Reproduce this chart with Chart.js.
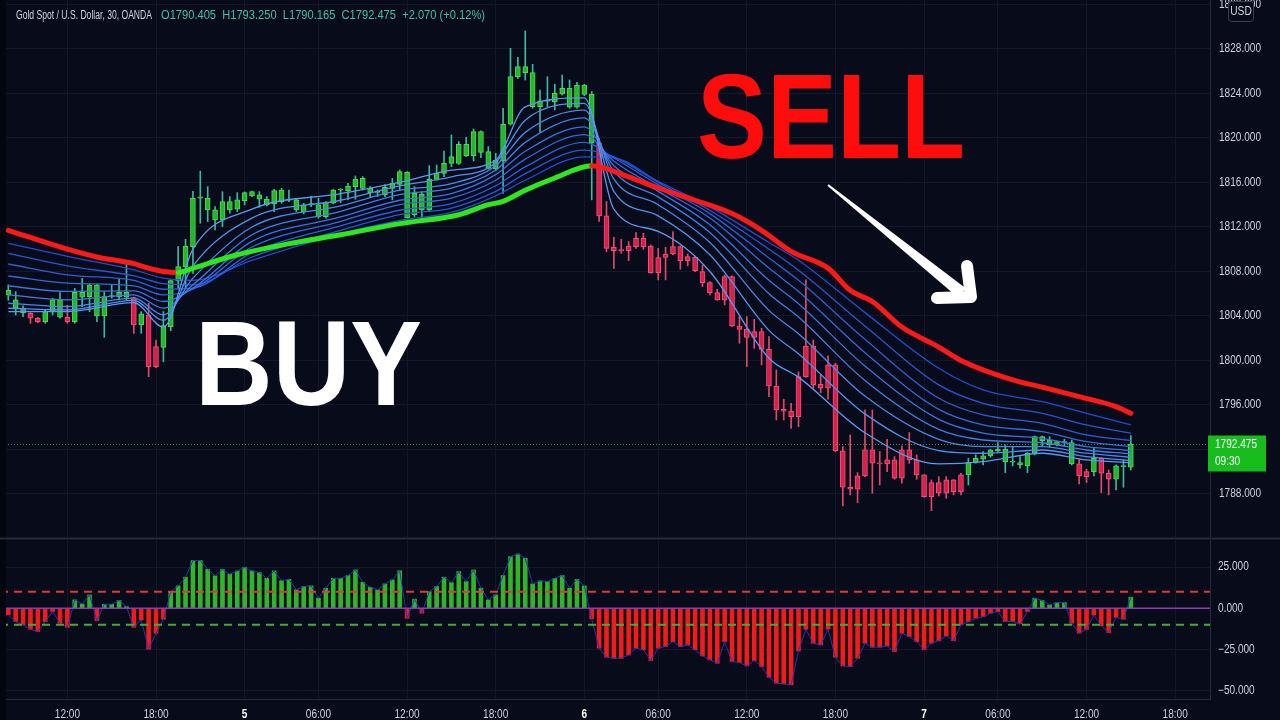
<!DOCTYPE html>
<html>
<head>
<meta charset="utf-8">
<script src="https://cdn.jsdelivr.net/npm/chart.js@4.4.0/dist/chart.umd.min.js"></script>
<style>
  html, body { margin: 0; padding: 0; background: #080b19; overflow: hidden; }
  #wrap { position: relative; width: 1280px; height: 720px; }
  #main { position: absolute; left: 0; top: 0; width: 1280px; height: 537px; }
  #osc { position: absolute; left: 0; top: 537px; width: 1280px; height: 183px; }
</style>
</head>
<body>
<div id="wrap">
  <canvas id="main" width="1280" height="537"></canvas>
  <canvas id="osc" width="1280" height="183"></canvas>
</div>
<script>
// --- data: 30 min XAUUSD bars ---
const opens = [1805.9,1804.69,1804.3,1804.24,1803.79,1803.49,1804.39,1803.88,1803.88,1803.49,1805.68,1805.73,1804.0,1804.0,1805.73,1805.73,1805.68,1805.65,1803.19,1804.09,1801.24,1801.18,1803.04,1807.17,1808.43,1810.23,1814.58,1813.53,1812.63,1812.63,1813.53,1813.59,1814.37,1814.79,1814.49,1813.98,1814.07,1814.28,1814.4,1813.53,1813.38,1814.0,1812.93,1812.93,1814.13,1815.3,1815.26,1815.62,1815.47,1815.08,1815.1,1814.88,1815.47,1815.83,1812.84,1813.08,1813.53,1813.5,1816.28,1816.82,1817.72,1817.72,1818.41,1818.41,1818.71,1817.27,1817.21,1817.93,1821.23,1825.51,1825.87,1822.82,1822.82,1823.3,1823.27,1823.96,1822.76,1822.76,1823.92,1819.52,1819.52,1812.99,1810.17,1809.95,1810.29,1810.98,1810.98,1810.29,1809.24,1809.57,1810.23,1810.23,1809.33,1809.27,1807.99,1806.99,1806.1,1807.54,1807.54,1803.1,1802.8,1802.59,1802.59,1801.0,1797.7,1795.6,1795.45,1798.55,1801.3,1801.3,1797.86,1799.6,1799.6,1791.87,1788.6,1789.62,1791.96,1791.96,1790.8,1791.06,1791.06,1791.96,1791.96,1791.06,1789.71,1789.02,1789.02,1789.26,1789.26,1789.71,1789.71,1790.82,1791.12,1791.42,1791.86,1790.91,1790.85,1790.61,1790.52,1791.66,1792.8,1792.4,1792.4,1792.6,1790.7,1790.7,1790.01,1790.01,1791.21,1789.86,1789.32,1790.45,1790.405];
const highs = [1806.8,1806.18,1804.9,1804.3,1803.88,1804.54,1805.59,1806.09,1804.96,1806.48,1807.38,1806.85,1806.85,1806.18,1806.78,1807.38,1808.67,1805.7,1804.39,1805.14,1801.84,1804.39,1807.25,1810.23,1810.89,1815.2,1817.02,1815.62,1813.83,1815.17,1814.73,1815.08,1815.15,1815.22,1815.17,1814.73,1815.38,1815.47,1815.32,1814.58,1814.13,1814.73,1814.58,1814.28,1815.38,1815.45,1815.92,1816.58,1816.52,1815.62,1815.32,1815.8,1816.37,1817.12,1816.97,1815.62,1815.17,1817.51,1817.57,1818.83,1820.27,1819.67,1820.06,1820.81,1820.63,1819.22,1818.62,1822.67,1828.06,1827.25,1829.62,1826.62,1824.3,1825.51,1824.82,1825.66,1825.21,1825.0,1824.82,1824.17,1819.97,1814.28,1811.07,1810.89,1810.68,1811.49,1811.43,1810.38,1810.08,1810.17,1811.58,1810.29,1809.57,1809.39,1808.58,1807.08,1806.4,1807.69,1807.6,1803.94,1803.94,1803.7,1802.89,1802.14,1799.15,1796.51,1796.15,1798.97,1807.24,1801.84,1798.7,1800.41,1799.75,1792.26,1793.3,1789.92,1795.55,1795.55,1791.81,1792.91,1791.36,1792.31,1793.51,1791.51,1789.75,1789.26,1789.56,1789.56,1789.3,1789.86,1791.21,1791.51,1791.81,1792.02,1792.61,1792.4,1792.25,1791.36,1791.72,1793.21,1793.21,1793.15,1792.76,1792.91,1792.85,1791.12,1790.22,1792.11,1791.25,1790.16,1790.61,1791.06,1793.25];
const lows = [1805.4,1804.09,1803.94,1803.34,1803.4,1803.34,1804.09,1803.79,1803.34,1803.34,1804.84,1804.39,1803.49,1802.08,1805.6,1805.44,1805.44,1802.44,1802.44,1798.54,1799.35,1799.89,1802.68,1806.48,1806.48,1807.83,1812.33,1812.48,1811.73,1812.03,1813.23,1813.38,1813.98,1814.73,1813.77,1813.89,1813.38,1814.13,1814.28,1813.38,1813.17,1813.83,1812.78,1812.78,1814.07,1814.19,1814.43,1814.49,1815.32,1814.73,1814.73,1814.73,1814.43,1815.32,1812.78,1812.93,1812.63,1813.45,1816.22,1816.52,1817.42,1817.63,1818.32,1817.93,1818.23,1817.21,1817.12,1815.02,1821.17,1825.36,1825.21,1822.67,1820.51,1822.82,1822.52,1823.86,1822.67,1822.67,1823.8,1814.43,1812.5,1809.78,1808.28,1809.63,1808.97,1810.08,1809.99,1807.84,1807.24,1807.24,1809.48,1808.2,1808.5,1807.99,1806.64,1805.89,1805.4,1804.99,1803.04,1801.54,1799.45,1801.09,1799.6,1796.75,1794.65,1794.65,1793.9,1794.05,1798.5,1797.5,1797.11,1796.51,1791.81,1786.92,1787.91,1787.22,1789.56,1788.06,1788.81,1790.01,1789.32,1788.96,1790.76,1789.32,1787.7,1786.5,1787.82,1787.61,1787.91,1787.91,1788.81,1790.76,1790.61,1791.3,1791.8,1789.92,1790.52,1790.31,1789.92,1791.51,1792.25,1792.25,1792.31,1792.31,1790.61,1788.9,1789.02,1789.62,1788.12,1787.91,1788.36,1788.6,1790.165];
const closes = [1806.3,1805.44,1804.69,1803.79,1803.49,1804.39,1805.44,1805.44,1803.49,1806.12,1806.12,1806.78,1806.78,1805.73,1805.82,1806.12,1806.12,1803.19,1804.18,1799.44,1799.44,1803.13,1807.17,1808.43,1810.29,1814.58,1814.7,1814.58,1813.53,1814.28,1814.28,1814.43,1815.08,1815.17,1814.88,1814.49,1815.26,1815.32,1814.5,1814.43,1813.98,1814.1,1813.98,1814.19,1815.32,1815.4,1815.68,1816.31,1816.37,1815.47,1815.2,1815.56,1815.92,1816.97,1816.91,1815.02,1814.93,1816.31,1816.82,1817.72,1818.32,1819.43,1819.43,1820.57,1820.57,1818.77,1818.02,1821.23,1825.51,1826.41,1826.41,1825.87,1823.33,1823.4,1824.0,1824.46,1824.46,1824.76,1824.76,1823.92,1812.99,1810.08,1809.87,1809.87,1809.87,1810.23,1810.23,1807.9,1807.9,1809.27,1809.57,1808.97,1808.97,1808.08,1806.99,1806.1,1805.44,1805.44,1803.1,1802.8,1802.08,1802.08,1801.0,1797.7,1795.55,1795.45,1794.95,1794.95,1798.55,1797.8,1797.5,1797.5,1791.87,1788.6,1788.42,1788.42,1789.62,1790.76,1790.7,1790.7,1789.41,1789.41,1791.06,1789.71,1787.76,1787.76,1788.06,1788.06,1788.21,1788.21,1790.82,1791.21,1791.42,1791.96,1792.04,1792.01,1790.95,1790.82,1791.66,1793.15,1793.15,1792.85,1792.7,1792.7,1792.61,1789.62,1789.56,1791.21,1789.86,1789.32,1790.52,1790.55,1792.475];

// EMA ribbon, read at these bar indices (fastest first)
const ribbonX = [0, 8, 17, 21, 25, 33, 45, 53, 60, 66, 70, 78, 82, 88, 95, 103, 107, 116, 126, 132, 140, 146, 152];
const ema1 = [1804.39,1804.4,1805.2,1803.0,1810.0,1813.6,1815.0,1816.0,1817.1,1818.0,1822.8,1823.6,1813.6,1811.6,1808.0,1800.2,1798.5,1793.5,1790.7,1790.9,1791.66,1791.06,1790.8];
const ema2 = [1804.69,1804.55,1805.4,1803.6,1808.5,1812.8,1814.4,1815.7,1816.5,1817.8,1821.6,1823.1,1815.2,1813.0,1809.5,1802.7,1800.6,1795.2,1791.9,1791.66,1791.95,1791.35,1791.0];
const ema3 = [1805.14,1804.85,1805.6,1804.1,1807.4,1812.0,1813.9,1815.3,1815.9,1817.5,1820.5,1822.5,1816.3,1814.0,1810.6,1804.5,1802.4,1796.8,1792.9,1792.25,1792.25,1791.66,1791.3];
const ema4 = [1805.89,1805.45,1805.9,1804.7,1806.8,1811.3,1813.4,1814.9,1815.5,1817.1,1819.6,1821.8,1817.0,1814.7,1811.5,1806.0,1803.9,1798.2,1793.8,1792.85,1792.6,1791.95,1791.6];
const ema5 = [1806.69,1806.2,1806.25,1805.3,1806.5,1810.7,1812.9,1814.4,1815.0,1816.7,1818.8,1821.0,1817.5,1815.2,1812.2,1807.2,1805.1,1799.5,1794.7,1793.46,1793.0,1792.25,1791.9];
const ema6 = [1807.59,1806.95,1806.7,1805.9,1806.4,1810.2,1812.5,1814.0,1814.6,1816.2,1818.1,1820.3,1817.9,1815.5,1812.8,1808.3,1806.2,1800.7,1795.6,1794.2,1793.6,1792.7,1792.26];
const ema7 = [1808.67,1807.7,1807.2,1806.4,1806.5,1809.7,1812.1,1813.5,1814.1,1815.7,1817.4,1819.6,1818.2,1815.8,1813.2,1809.2,1807.2,1801.9,1796.6,1795.1,1794.35,1793.3,1792.8];
const ema8 = [1809.63,1808.5,1807.6,1806.9,1806.8,1809.3,1811.7,1813.1,1813.7,1815.2,1816.8,1818.9,1818.3,1816.0,1813.5,1810.0,1808.1,1803.1,1797.8,1796.15,1795.25,1794.2,1793.46];
const ema9 = [1810.53,1809.35,1808.15,1807.4,1807.2,1809.0,1811.4,1812.6,1813.3,1814.8,1816.2,1818.3,1818.2,1816.1,1813.8,1810.6,1809.0,1804.3,1799.3,1797.35,1796.3,1795.25,1794.2];

// slow trend line (red while falling, green while rising)
const trendX = [0, 8, 12, 17, 19, 21, 23, 25, 31, 38, 45, 53, 61, 65, 67, 70, 74, 79, 84, 88, 93, 98, 102, 106, 111, 114, 117, 121, 126, 129, 136, 140, 145, 150, 152];
const trendY = [1811.7,1810.0,1809.3,1808.7,1808.3,1808.0,1807.9,1808.3,1809.5,1810.5,1811.3,1812.3,1813.1,1814.0,1814.3,1815.3,1816.4,1817.5,1816.5,1815.5,1814.4,1813.2,1811.7,1809.8,1808.3,1806.3,1805.3,1803.0,1801.2,1800.0,1798.25,1797.6,1796.75,1795.85,1795.25];

// oscillator histogram, one value per bar
const oscValues = [-4,-8.1,-10.1,-12.8,-14.2,-8.1,-2,-9.1,-11.6,5.1,2.6,8.1,-7.5,2.4,2.4,4.7,1,-11.6,-7.1,-24.9,-15.2,-6.7,10.1,13.6,18.9,29.0,29.0,23.7,19.7,23.7,20.7,22.7,24.9,22.7,21.7,18.2,22.7,16.8,17.6,11.2,13.2,13.6,6.1,12.2,18.2,18.2,19.9,23.3,15.8,12.8,11.2,14.8,17.2,22.8,-6.1,5.5,-3.0,10.1,13.2,18.9,15.6,22.3,16.2,23.3,12.2,5.1,8.1,19.9,31.4,33.0,30.4,14.8,16.6,16.2,18.2,19.9,12.2,17.6,13.6,-6.5,-24.3,-29.8,-30.4,-30.4,-28.4,-24.3,-25.3,-31.8,-24.3,-23.3,-20.3,-23.3,-22.3,-25.3,-29.0,-31.4,-33.5,-20.3,-32.4,-33.0,-35.1,-31.8,-35.5,-42.0,-45.6,-46.0,-46.6,-26,-12.8,-21.3,-22.3,-12.8,-29.8,-35.1,-35.5,-30.4,-21.3,-23.7,-23.7,-22.9,-26.4,-15.2,-17.2,-20.3,-25.3,-21.3,-19.7,-16.8,-19.7,-10.1,-8.1,-6.1,-5.1,-3.0,-2.0,-8.1,-8.1,-9.5,-2.0,6.1,4.7,2.0,3.4,3.4,-9.1,-15.2,-12.8,-4.1,-10.7,-14.8,-5.5,-6.7,6.7];
const oscUpper = 10;
const oscLower = -10;

// time axis
const tickIdx = [8, 20, 32, 42, 54, 66, 78, 88, 100, 112, 124, 134, 146, 158];
const tickText = ['12:00', '18:00', '5', '06:00', '12:00', '18:00', '6', '06:00', '12:00', '18:00', '7', '06:00', '12:00', '18:00'];
const priceTicks = [1788, 1792, 1796, 1800, 1804, 1808, 1812, 1816, 1820, 1824, 1828, 1832];
const oscTicks = [25, 0, -25, -50];

const title = 'Gold Spot / U.S. Dollar, 30, OANDA';
const ohlcText = 'O1790.405  H1793.250  L1790.165  C1792.475  +2.070 (+0.12%)';
const countdown = '09:30';

// --- look ---
const BG = '#080b19';
const GRID = '#131829';
const AXIS_LINE = '#262b3b';
const TXT = '#cfd2dc';
const FONT = "'Liberation Sans', Arial, sans-serif";
const NARROW = 0.84;
const UP = '#22b82a', UP_B = '#4fd65a';
const DN = '#d9204c', DN_B = '#f0507a';
const X_MIN = -1.124, X_MAX = 162.72;

const idx = closes.map((_, i) => i);
const isUp = idx.map(i => closes[i] >= opens[i]);
const ribbon = [ema1, ema2, ema3, ema4, ema5, ema6, ema7, ema8, ema9];
const ribbonColors = ['#5a98f2', '#5190ef', '#4886ec', '#407ce9', '#3872e5', '#3268e1', '#2c5edc', '#2755d7', '#224cd2'];

// condensed looking text: squeeze it sideways
function narrowText(g, text, x, y, align, color, weight, squeeze) {
  const s = squeeze || NARROW;
  g.save();
  g.font = (weight || 'normal') + ' 12px ' + FONT;
  g.textBaseline = 'middle';
  g.textAlign = 'left';
  const w = g.measureText(text).width * s;
  const x0 = align === 'center' ? x - w / 2 : (align === 'right' ? x - w : x);
  g.translate(x0, y);
  g.scale(s, 1);
  g.fillStyle = color;
  g.fillText(text, 0, 0);
  g.restore();
}

function fitText(g, text, x, base, w, font, color) {
  g.save();
  g.font = font;
  const m = g.measureText(text).width;
  g.translate(x, base);
  g.scale(w / m, 1);
  g.fillStyle = color;
  g.fillText(text, 0, 0);
  g.restore();
}

const bgPlugin = {
  id: 'bg',
  beforeDraw(c) {
    const g = c.ctx;
    g.save();
    g.fillStyle = BG;
    g.fillRect(0, 0, c.width, c.height);
    g.restore();
  }
};

const overlayPlugin = {
  id: 'overlay',
  afterDraw(c) {
    const g = c.ctx;
    const ys = c.scales.y;
    const py = Math.round(ys.getPixelForValue(closes[closes.length - 1])) + 0.5;
    g.save();
    // current price dotted line
    g.strokeStyle = 'rgba(90,170,70,0.8)';
    g.lineWidth = 1;
    g.setLineDash([1, 2]);
    g.beginPath(); g.moveTo(8, py); g.lineTo(c.chartArea.right, py); g.stroke();
    g.setLineDash([]);

    // BUY / SELL annotations
    g.textBaseline = 'alphabetic';
    fitText(g, 'SELL', 697, 158, 268, "bold 120px 'Liberation Sans', Arial, sans-serif", '#ff0d0d');
    fitText(g, 'BUY', 195, 405, 227, "bold 120px 'Liberation Sans', Arial, sans-serif", '#ffffff');

    // arrow, tapering shaft + chevron head
    g.fillStyle = '#ffffff';
    g.strokeStyle = '#ffffff';
    const ax0 = 828, ay0 = 185, ax1 = 962, ay1 = 293;
    const len = Math.hypot(ax1 - ax0, ay1 - ay0);
    const nx = -(ay1 - ay0) / len, ny = (ax1 - ax0) / len;
    g.beginPath();
    g.moveTo(ax0 + nx * 1, ay0 + ny * 1);
    g.lineTo(ax1 + nx * 6, ay1 + ny * 6);
    g.lineTo(ax1 - nx * 6, ay1 - ny * 6);
    g.lineTo(ax0 - nx * 1, ay0 - ny * 1);
    g.closePath(); g.fill();
    g.lineWidth = 12;
    g.lineCap = 'round';
    g.lineJoin = 'round';
    g.beginPath(); g.moveTo(937, 298); g.lineTo(971, 297); g.lineTo(967, 266); g.stroke();

    // left frame strip
    g.fillStyle = '#04060f';
    g.fillRect(0, 0, 6, c.height);

    // price axis labels
    priceTicks.forEach(v => narrowText(g, v.toFixed(3), 1219, ys.getPixelForValue(v), 'left', TXT));

    // header
    g.textBaseline = 'alphabetic';
    fitText(g, title, 16, 19, 136, '13px ' + FONT, TXT);
    fitText(g, ohlcText, 161, 19, 324, '13px ' + FONT, '#3fc0a8');

    // USD box
    g.fillStyle = BG;
    g.strokeStyle = '#3a3f4e';
    g.lineWidth = 1;
    g.beginPath(); g.roundRect(1228.5, 1.5, 25, 20, 3); g.fill(); g.stroke();
    narrowText(g, 'USD', 1241, 12, 'center', TXT, 'normal', 0.85);

    // last price label
    g.fillStyle = '#17bd1d';
    g.fillRect(1208, py - 9, 58, 36);
    narrowText(g, closes[closes.length - 1].toFixed(3), 1215, py, 'left', '#ffffff');
    narrowText(g, countdown, 1215, py + 17, 'left', '#ffffff');
    g.restore();
  }
};

const priceChart = new Chart(document.getElementById('main'), {
  type: 'bar',
  data: {
    datasets: [
      {
        type: 'line',
        label: 'trend',
        data: trendX.map((x, k) => ({ x: x, y: trendY[k] })),
        borderWidth: 5,
        borderColor: '#ff1a1a',
        segment: {
          borderColor: ctx => ctx.p1.parsed.y >= ctx.p0.parsed.y ? '#2ee81f' : '#ff1a1a'
        },
        pointRadius: 0,
        cubicInterpolationMode: 'monotone',
        borderCapStyle: 'round',
        order: 0
      },
      ...ribbon.map((line, k) => ({
        type: 'line',
        label: 'ema' + (k + 1),
        data: ribbonX.map((x, j) => ({ x: x, y: line[j] })),
        borderWidth: 1.3,
        borderColor: ribbonColors[k],
        pointRadius: 0,
        cubicInterpolationMode: 'monotone',
        order: 1
      })),
      {
        label: 'bodies',
        data: idx.map(i => ({ x: i, y: [Math.min(opens[i], closes[i]), Math.max(opens[i], closes[i])] })),
        backgroundColor: idx.map(i => isUp[i] ? UP : DN),
        borderColor: idx.map(i => isUp[i] ? UP_B : DN_B),
        borderWidth: 1,
        borderSkipped: false,
        barThickness: 5,
        minBarLength: 1,
        grouped: false,
        order: 2
      },
      {
        label: 'wicks',
        data: idx.map(i => ({ x: i, y: [lows[i], highs[i]] })),
        backgroundColor: idx.map(i => isUp[i] ? '#3fb6a0' : '#e04a6a'),
        barThickness: 1,
        grouped: false,
        order: 3
      }
    ]
  },
  options: {
    responsive: false,
    animation: false,
    devicePixelRatio: 1,
    layout: { padding: 0 },
    plugins: { legend: { display: false }, tooltip: { enabled: false } },
    scales: {
      x: {
        type: 'linear',
        min: X_MIN,
        max: X_MAX,
        offset: false,
        afterBuildTicks: s => { s.ticks = tickIdx.map(v => ({ value: v })); },
        afterFit: s => { s.height = 0; },
        ticks: { display: false },
        grid: { color: GRID, drawTicks: false, offset: false },
        border: { display: false }
      },
      y: {
        position: 'right',
        min: 1784.13,
        max: 1832.40,
        afterBuildTicks: s => { s.ticks = priceTicks.map(v => ({ value: v })); },
        afterFit: s => { s.width = 70; },
        ticks: { display: false },
        grid: { color: GRID, drawTicks: false },
        border: { color: AXIS_LINE }
      }
    }
  },
  plugins: [bgPlugin, overlayPlugin]
});

const oscFrame = {
  id: 'oscFrame',
  afterDraw(c) {
    const g = c.ctx;
    const xs = c.scales.x, ys = c.scales.y;
    g.save();
    g.fillStyle = '#04060f';
    g.fillRect(0, 0, 6, c.height);
    g.strokeStyle = AXIS_LINE;
    g.lineWidth = 2;
    g.beginPath(); g.moveTo(0, 1.5); g.lineTo(c.width, 1.5); g.stroke();
    oscTicks.forEach(v => narrowText(g, (v < 0 ? '\u2212' : '') + Math.abs(v).toFixed(3), 1218, ys.getPixelForValue(v), 'left', TXT));
    tickIdx.forEach((v, k) => {
      const day = /^\d$/.test(tickText[k]);
      narrowText(g, tickText[k], xs.getPixelForValue(v), 178, 'center', day ? '#ffffff' : TXT, day ? 'bold' : 'normal');
    });
    g.restore();
  }
};

const oscChart = new Chart(document.getElementById('osc'), {
  type: 'bar',
  data: {
    datasets: [
      {
        type: 'line',
        label: 'upper',
        data: [{ x: X_MIN, y: oscUpper }, { x: X_MAX, y: oscUpper }],
        borderColor: '#e0393a',
        borderWidth: 2,
        borderDash: [8, 6],
        pointRadius: 0,
        order: 0
      },
      {
        type: 'line',
        label: 'lower',
        data: [{ x: X_MIN, y: oscLower }, { x: X_MAX, y: oscLower }],
        borderColor: '#3fae34',
        borderWidth: 2,
        borderDash: [8, 6],
        pointRadius: 0,
        order: 0
      },
      {
        type: 'line',
        label: 'zero',
        data: [{ x: X_MIN, y: 0 }, { x: X_MAX, y: 0 }],
        borderColor: '#8a3bb8',
        borderWidth: 1.5,
        pointRadius: 0,
        order: 1
      },
      {
        type: 'line',
        label: 'outline',
        data: idx.map(i => ({ x: i, y: oscValues[i] })),
        borderColor: '#2436b4',
        borderWidth: 1,
        pointRadius: 0,
        order: 2
      },
      {
        label: 'hist',
        data: idx.map(i => ({ x: i, y: oscValues[i] })),
        backgroundColor: oscValues.map(v => v >= 0 ? '#2fb52a' : '#f21b1b'),
        barThickness: 4,
        grouped: false,
        order: 3
      }
    ]
  },
  options: {
    responsive: false,
    animation: false,
    devicePixelRatio: 1,
    layout: { padding: { top: 3 } },
    plugins: { legend: { display: false }, tooltip: { enabled: false } },
    scales: {
      x: {
        type: 'linear',
        min: X_MIN,
        max: X_MAX,
        offset: false,
        afterBuildTicks: s => { s.ticks = tickIdx.map(v => ({ value: v })); },
        afterFit: s => { s.height = 21; },
        ticks: { display: false },
        grid: { color: GRID, drawTicks: false, offset: false },
        border: { color: AXIS_LINE }
      },
      y: {
        position: 'right',
        min: -55.2,
        max: 41.5,
        afterBuildTicks: s => { s.ticks = oscTicks.map(v => ({ value: v })); },
        afterFit: s => { s.width = 70; },
        ticks: { display: false },
        grid: { color: GRID, drawTicks: false },
        border: { color: AXIS_LINE }
      }
    }
  },
  plugins: [bgPlugin, oscFrame]
});
</script>
</body>
</html>
